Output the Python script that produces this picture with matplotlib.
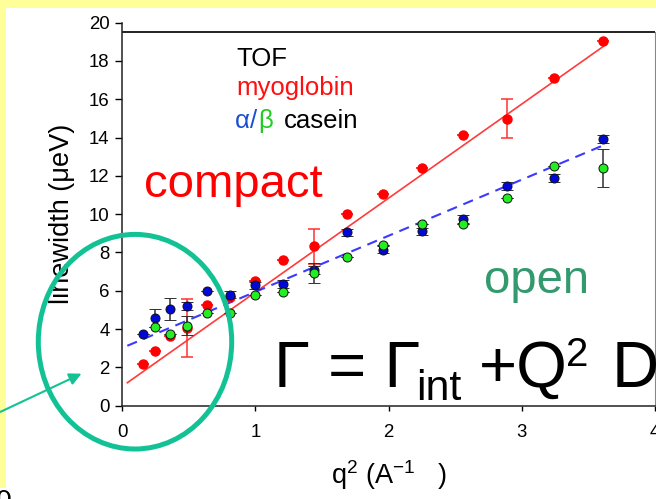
import matplotlib
matplotlib.use("Agg")
import matplotlib.pyplot as plt
from matplotlib.patches import Ellipse, Rectangle, FancyArrowPatch

plt.rcParams['font.family'] = ['Liberation Sans', 'DejaVu Sans']
plt.rcParams['mathtext.fontset'] = 'custom'
plt.rcParams['mathtext.rm'] = 'Liberation Sans'
plt.rcParams['mathtext.it'] = 'Liberation Sans'
plt.rcParams['mathtext.default'] = 'regular'
plt.rcParams['lines.scale_dashes'] = False

# q^2 values (q = 0.4 ... 1.9 A^-1)
q2 = [0.16, 0.25, 0.36, 0.49, 0.64, 0.81, 1.00, 1.21,
      1.44, 1.69, 1.96, 2.25, 2.56, 2.89, 3.24, 3.61]

# myoglobin linewidths (ueV)
myo = [2.18, 2.87, 3.65, 4.05, 5.27, 5.68, 6.49, 7.62,
       8.32, 9.99, 11.05, 12.41, 14.15, 14.99, 17.09, 19.06]
myo_err = [0, 0, 0, 1.5, 0, 0, 0, 0,
           0.92, 0, 0, 0, 0, 1.0, 0, 0]

# alpha casein
alpha = [3.72, 4.58, 5.05, 5.22, 5.97, 5.80, 6.28, 6.35,
         7.10, 9.05, 8.15, 9.10, 9.75, 11.47, 11.89, 13.94]
alpha_err = [0, 0.48, 0.55, 0.2, 0, 0.2, 0.2, 0.2,
             0.2, 0.2, 0.2, 0.2, 0.2, 0.2, 0.2, 0.2]

# beta casein (no point at the first q)
q2_beta = q2[1:]
beta = [4.09, 3.76, 4.18, 4.84, 4.84, 5.76, 5.95,
        6.93, 7.74, 8.37, 9.50, 9.49, 10.87, 12.50, 12.41]
beta_err = [0, 0, 0.5, 0, 0, 0, 0,
            0.52, 0, 0, 0, 0, 0, 0, 1.0]

# linear fits Gamma = Gamma_int + Q^2 D
fit_x = [0.04, 3.61]
myo_fit = [1.20, 18.75]
casein_fit = [3.13, 13.59]

W, H = 656, 499


def fx(px):
    return px / W


def fy(py):
    return 1 - py / H


fig = plt.figure(figsize=(W / 100, H / 100), dpi=100, facecolor='white')

# yellow slide border
fig.add_artist(Rectangle((0, fy(488)), fx(6), 1 - fy(488), transform=fig.transFigure,
                         facecolor='#ffff99', edgecolor='none', zorder=-5))
fig.add_artist(Rectangle((0, fy(8)), 1, fy(0) - fy(8), transform=fig.transFigure,
                         facecolor='#ffff99', edgecolor='none', zorder=-5))

ax = fig.add_axes([fx(122), fy(405.7), fx(655) - fx(122), fy(22.7) - fy(405.7)])
ax.set_xlim(0, 4)
ax.set_ylim(0, 20)
ax.set_xticks([0, 1, 2, 3, 4])
ax.set_yticks(range(0, 21, 2))
ax.tick_params(axis='y', direction='out', length=5, width=1, labelsize=13.4, pad=4)
ax.tick_params(axis='x', direction='out', length=3.5, width=1, labelsize=13.4, pad=10)
ax.spines['top'].set_visible(False)
ax.spines['right'].set_color('#888888')
ax.spines['right'].set_linewidth(0.8)
ax.spines['right'].set_bounds(0, 19.53)
ax.spines['left'].set_linewidth(1.1)
ax.spines['bottom'].set_linewidth(1.1)
for s in ('left', 'bottom'):
    ax.spines[s].set_color('#222222')
ax.axhline(19.53, color='#222222', lw=1.4, zorder=1)

ax.plot(fit_x, myo_fit, color='#ff3b3b', lw=1.2, zorder=2)
ax.plot(fit_x, casein_fit, color='#3a3aff', lw=1.5, dashes=(7.5, 5), zorder=2)

ax.errorbar(q2, myo, yerr=myo_err, fmt='o', color='#ff0000', ms=6.5, mec='#ff0000',
            ecolor='#ff3030', elinewidth=1.1, capsize=4.2, capthick=1.1, zorder=3)
ax.errorbar(q2, alpha, yerr=alpha_err, fmt='o', color='#0008d8', ms=6.5, mec='#101010',
            mew=0.7, ecolor='#303030', elinewidth=1.1, capsize=4, capthick=1.6, zorder=4)
ax.errorbar(q2_beta, beta, yerr=beta_err, fmt='o', color='#22ee22', ms=6.5, mec='#101010',
            mew=0.7, ecolor='#303030', elinewidth=1.1, capsize=4, capthick=1.1, zorder=5)

ax.set_ylabel('linewidth (\u03bceV)', fontsize=19.5, labelpad=10)
ax.set_xlabel('q$^2$ (A$^{-1}$   )', fontsize=19.5, labelpad=12)

# legend-style labels
fig.text(fx(236), fy(65.7), 'TOF', fontsize=18.5, color='black', va='baseline')
fig.text(fx(236), fy(95), 'myoglobin', fontsize=18.5, color='#ff1010', va='baseline')
fig.text(fx(235), fy(128), '\u03b1', fontsize=18.5, color='#1a4fd0', va='baseline')
fig.text(fx(250), fy(128), '/', fontsize=18.5, color='#1a4fd0', va='baseline')
fig.text(fx(258), fy(128), '\u03b2', fontsize=18.5, color='#22cc22', va='baseline')
fig.text(fx(284), fy(128), 'casein', fontsize=18.5, color='black', va='baseline')

fig.text(fx(144), fy(197), 'compact', fontsize=34, color='#ff0000', va='baseline')
fig.text(fx(484), fy(293), 'open', fontsize=34, color='#33996e', va='baseline')

# Gamma = Gamma_int + Q^2 D, set piece by piece
fig.text(fx(274), fy(387), '\u0393 = \u0393', fontsize=47, color='black', va='baseline')
fig.text(fx(416), fy(400), 'int', fontsize=31, color='black', va='baseline')
fig.text(fx(479), fy(387), '+Q', fontsize=47, color='black', va='baseline')
fig.text(fx(566), fy(366), '2', fontsize=29, color='black', va='baseline')
fig.text(fx(612), fy(387), 'D', fontsize=47, color='black', va='baseline')

# circled low-q region with pointer
fig.add_artist(Ellipse((fx(135), fy(341.7)), fx(193.4), fy(0) - fy(214.6),
                       transform=fig.transFigure, fill=False, edgecolor='#12c295',
                       lw=3.6, zorder=10))
fig.add_artist(FancyArrowPatch((fx(-2), fy(413)), (fx(84), fy(372.5)),
                               transform=fig.transFigure, arrowstyle='-|>',
                               mutation_scale=18, color='#12c295', lw=1.5, zorder=10))

fig.text(fx(-5), fy(485), '\u03c1', fontsize=20, color='black', va='top')

fig.savefig('out.png', dpi=100, facecolor='white')
